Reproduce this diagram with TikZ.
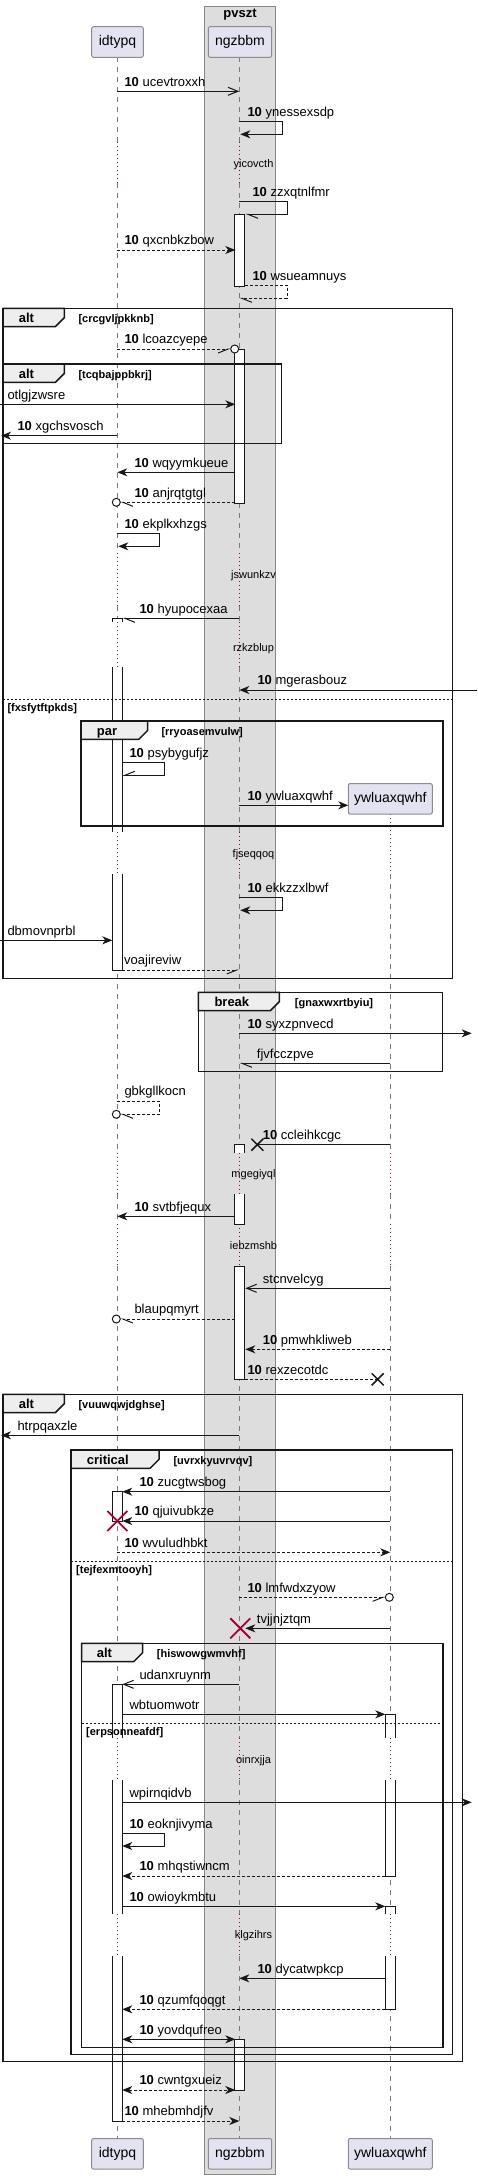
\documentclass[tikz,border=0pt]{standalone}
\usepackage{fontspec}
\setmainfont{Liberation Sans}
\usetikzlibrary{arrows.meta}
\definecolor{partfill}{HTML}{E2E2F0}
\definecolor{partdraw}{HTML}{8C8C8C}
\definecolor{boxfill}{HTML}{DDDDDD}
\definecolor{boxdraw}{HTML}{888888}
\definecolor{lifec}{HTML}{7A7A7A}
\definecolor{delayc}{HTML}{A80036}
\definecolor{tabfill}{HTML}{EEEEEE}
\definecolor{ink}{HTML}{181818}
\newcommand\msgfont{\fontsize{13}{15}\selectfont}
% message: name, y, x1, x2, style, label x, label
\newcommand\seqmsg[7]{%
  \coordinate (#1a) at (#3,#2);
  \coordinate (#1b) at (#4,#2);
  \draw[msgl,#5] (#1a) -- (#1b);
  \node[lbl] (#1l) at (#6,#2-5.3) {#7};}
% self message: name, y1, y2, x1, xr, xend, style, label x, label
\newcommand\seqself[9]{%
  \coordinate (#1a) at (#4,#2);
  \coordinate (#1c) at (#5,#2);
  \coordinate (#1d) at (#5,#3);
  \coordinate (#1b) at (#6,#3);
  \draw[msgl,#7] (#1a) -- (#1c) -- (#1d) -- (#1b);
  \node[lbl] (#1l) at (#8,#2-5.3) {#9};}
% activation pieces: lifeline x, y1, y2
\newcommand\actC[3]{\draw[actl,fill=white] (#1-5,#2) rectangle (#1+5,#3);}
\newcommand\actT[3]{\fill[white] (#1-5,#2) rectangle (#1+5,#3);
  \draw[actl] (#1-5,#3) -- (#1-5,#2) -- (#1+5,#2) -- (#1+5,#3);}
\newcommand\actB[3]{\fill[white] (#1-5,#2) rectangle (#1+5,#3);
  \draw[actl] (#1-5,#2) -- (#1-5,#3) -- (#1+5,#3) -- (#1+5,#2);}
\newcommand\actO[3]{\fill[white] (#1-5,#2) rectangle (#1+5,#3);
  \draw[actl] (#1-5,#2) -- (#1-5,#3); \draw[actl] (#1+5,#2) -- (#1+5,#3);}
% frame: x0, y0, x1, y1, tab right, label, label x, guard, guard x
\newcommand\seqframe[9]{%
  \draw[frm] (#1,#2) rectangle (#3,#4);
  \draw[frm,fill=tabfill] (#1,#2) -- (#5,#2) -- (#5,#2+9.4) -- (#5-9,#2+18.4) -- (#1,#2+18.4) -- cycle;
  \node[flbl] at (#7,#2+14.5) {#6};
  \node[glbl] at (#9,#2+14.2) {#8};}
\newcommand\seqelse[5]{% x0, x1, y, guard, guard x
  \draw[sepl] (#1,#3) -- (#2,#3);
  \node[glbl] at (#5,#3+12.2) {#4};}
\newcommand\redx[2]{\draw[delayc,line width=1.8pt] (#1-10,#2-10) -- (#1+10,#2+10) (#1-10,#2+10) -- (#1+10,#2-10);}
\newcommand\blackx[2]{\draw[ink,line width=1.5pt] (#1-6,#2-6) -- (#1+6,#2+6) (#1-6,#2+6) -- (#1+6,#2-6);}
\begin{document}
\begin{tikzpicture}[x=1pt,y=-1pt,
  lbl/.style={anchor=base west,inner sep=0pt,font=\msgfont,text=black},
  msgl/.style={draw=ink,line width=1pt},
  dsh/.style={dash pattern=on 3pt off 2pt},
  fa/.style={-{Stealth[length=10pt,width=8pt,inset=3pt]}},
  fab/.style={{Stealth[length=10pt,width=8pt,inset=3pt]}-{Stealth[length=10pt,width=8pt,inset=3pt]}},
  oa/.style={-{Straight Barb[length=10pt,width=8pt]}},
  hr/.style={-{Straight Barb[right,length=10pt,width=8pt]}},
  hl/.style={-{Straight Barb[left,length=10pt,width=8pt]}},
  hlu/.style={-{Straight Barb[right,length=10pt,width=8pt]}},
  circ/.style={draw=ink,fill=white,line width=1pt},
  actl/.style={draw=ink,line width=1pt},
  lifel/.style={draw=lifec,line width=0.8pt,dash pattern=on 5pt off 5pt},
  delayl/.style={draw=delayc,line width=1pt,dash pattern=on 1pt off 3pt},
  dlbl/.style={inner sep=0pt,font=\fontsize{11}{13}\selectfont},
  frm/.style={draw=ink,line width=1.5pt},
  sepl/.style={draw=ink,line width=1pt,dash pattern=on 2pt off 2pt},
  flbl/.style={anchor=base west,inner sep=0pt,font=\bfseries\fontsize{13}{15}\selectfont},
  glbl/.style={anchor=base west,inner sep=0pt,font=\bfseries\fontsize{11}{13}\selectfont},
  part/.style={draw=partdraw,fill=partfill,rounded corners=2pt,line width=1pt,minimum height=30.6pt,inner sep=0pt,font=\fontsize{14}{16}\selectfont}
]
\useasboundingbox (0,0) rectangle (477,2179);
% box
\draw[fill=boxfill,draw=boxdraw,line width=1pt] (204.3,6) rectangle (275.3,2174);
\node[font=\bfseries\fontsize{13}{15}\selectfont,inner sep=0pt] (boxtitle) at (240,15) {pvszt};
% lifelines
\foreach \ya/\yb in {57.3/141.7,183.3/553.3,606/622,667/832.3,874/1152.7,1194/1224.3,1266/1738,1780/1914.3,1956/2138.3}
  {\draw[lifel] (117.3,\ya) -- (117.3,\yb); \draw[lifel] (239.3,\ya) -- (239.3,\yb);}
\foreach \ya/\yb in {141.7/183.3,553.3/606,622/667,832.3/874,1152.7/1194,1224.3/1266,1738/1780,1914.3/1956}
  {\draw[delayl] (117.3,\ya) -- (117.3,\yb); \draw[delayl] (239.3,\ya) -- (239.3,\yb);}
\foreach \ya/\yb in {874/1152.7,1194/1224.3,1266/1738,1780/1914.3,1956/2138.3}
  {\draw[lifel] (390.3,\ya) -- (390.3,\yb);}
\foreach \ya/\yb in {814.3/874,1152.7/1194,1224.3/1266,1738/1780,1914.3/1956}
  {\draw[delayl] (390.3,\ya) -- (390.3,\yb);}
% participants
\node[part,minimum width=51.6pt] (p1) at (117.5,42) {idtypq};
\node[part,minimum width=63.4pt] (p2) at (240,42) {ngzbbm};
\node[part,minimum width=51.6pt] (p1b) at (117.5,2153.8) {idtypq};
\node[part,minimum width=63.4pt] (p2b) at (240,2153.8) {ngzbbm};
\node[part,minimum width=84pt] (p3b) at (390.3,2153.8) {ywluaxqwhf};
\node[part,minimum width=84pt] (p3) at (390.3,798.8) {ywluaxqwhf};
% delay texts
\node[dlbl] (d1) at (253.5,164.3) {yicovcth};
\node[dlbl] (d2) at (253.5,576) {jswunkzv};
\node[dlbl] (d3) at (253.5,648.3) {rzkzblup};
\node[dlbl] (d4) at (253.5,854.3) {fjseqqoq};
\node[dlbl] (d5) at (253.5,1174.3) {mgegiyql};
\node[dlbl] (d6) at (253.5,1246) {iebzmshb};
\node[dlbl] (d7) at (253.5,1760.7) {oinrxjja};
\node[dlbl] (d8) at (253.5,1936) {klgzihrs};
% activations
\actC{239.3}{214.3}{286}
\actC{239.3}{349}{503.3}
\actT{117.3}{618.3}{622}
\actO{117.3}{667}{832.3}
\actB{117.3}{874}{970}
\actT{239.3}{1144.7}{1152.7}
\actB{239.3}{1194}{1224.3}
\actC{239.3}{1266}{1379.3}
\actC{117.3}{1491.7}{1521}
\actT{117.3}{1684.3}{1738}
\actO{117.3}{1780}{1914.3}
\actB{117.3}{1956}{2121}
\actT{390.3}{1714.3}{1738}
\actB{390.3}{1780}{1876}
\actT{390.3}{1906.3}{1914.3}
\actB{390.3}{1956}{2009.3}
\actC{239.3}{2039.3}{2090}
% frames
\seqframe{3}{308.3}{452.3}{978.3}{64.3}{alt}{18.7}{[crcgvljpkknb]}{78.3}
\seqelse{3}{452.3}{699}{[fxsfytftpkds]}{7.3}
\seqframe{3}{364}{281.7}{443.7}{64.3}{alt}{18.7}{[tcqbajppbkrj]}{78.3}
\seqframe{81}{721}{443}{826}{147.7}{par}{96.7}{[rryoasemvulw]}{161.3}
\seqframe{198.3}{992.3}{442.7}{1071.3}{279.3}{break}{214.3}{[gnaxwxrtbyiu]}{294.7}
\seqframe{3}{1394.3}{462.7}{2061.7}{64.3}{alt}{18.7}{[vuuwqwjdghse]}{78.3}
\seqframe{71}{1450}{452.7}{2054.3}{159}{critical}{86.7}{[uvrxkyuvrvqv]}{173.3}
\seqelse{71}{452.7}{1561}{[tejfexmtooyh]}{76}
\seqframe{81.7}{1643.3}{443}{2047.7}{142.7}{alt}{96.7}{[hiswowgwmvhf]}{156.7}
\seqelse{81.7}{443}{1723.3}{[erpsonneafdf]}{86}
% messages
\seqmsg{m1}{91.3}{117.3}{239.3}{oa}{124.3}{\textbf{10}\ ucevtroxxh}
\seqself{m2}{121.7}{134.3}{239.3}{282.7}{240.3}{fa}{247.3}{\textbf{10}\ ynessexsdp}
\seqself{m3}{201.3}{214.3}{239.3}{287.3}{245.3}{hl}{252.3}{\textbf{10}\ zzxqtnlfmr}
\seqmsg{m4}{250}{117.3}{235.3}{dsh,fa}{124.3}{\textbf{10}\ qxcnbkzbow}
\seqself{m5}{285.3}{298.3}{245.3}{287.3}{239.3}{dsh,hl}{252.3}{\textbf{10}\ wsueamnuys}
\seqmsg{m7}{349}{117.3}{230.7}{dsh,hr}{124.3}{\textbf{10}\ lcoazcyepe}
\draw[circ] (234.7,349) circle[radius=4pt];
\seqmsg{m8}{404.3}{0}{235.3}{fa}{7.3}{otlgjzwsre}
\seqmsg{m9}{435.7}{117.3}{1}{fa}{17.3}{\textbf{10}\ xgchsvosch}
\seqmsg{m10}{472.3}{235.3}{117.3}{fa}{134.3}{\textbf{10}\ wqyymkueue}
\seqmsg{m11}{502.3}{235.3}{120.3}{dsh,hl}{134.3}{\textbf{10}\ anjrqtgtgl}
\draw[circ] (116.3,502.3) circle[radius=4pt];
\seqself{m12}{533.7}{546.3}{117.3}{159.7}{118.3}{fa}{124.3}{\textbf{10}\ ekplkxhzgs}
\seqmsg{m13}{618.3}{239.3}{122.3}{hl}{139.3}{\textbf{10}\ hyupocexaa}
\seqmsg{m14}{690}{477}{239.3}{fa}{257.3}{\textbf{10}\ mgerasbouz}
\seqself{m15}{762.3}{775.3}{122.3}{164.3}{122.3}{hlu}{129.3}{\textbf{10}\ psybygufjz}
\seqmsg{m16}{805.3}{239.3}{348.3}{fa}{247.3}{\textbf{10}\ ywluaxqwhf}
\seqself{m17}{897.3}{910.3}{239.3}{282.7}{240.3}{fa}{247.3}{\textbf{10}\ ekkzzxlbwf}
\seqmsg{m18}{940.3}{0}{112.3}{fa}{7.3}{dbmovnprbl}
\seqmsg{m19}{970}{122.3}{239.3}{dsh,hr}{124}{voajireviw}
\seqmsg{m20}{1033.3}{239.3}{471.7}{fa}{247.3}{\textbf{10}\ syxzpnvecd}
\seqmsg{m21}{1063.3}{390.3}{239.3}{hl}{256.7}{fjvfcczpve}
\seqself{m22}{1101}{1114.3}{117.3}{159.7}{120.3}{dsh,hl}{124.3}{gbkgllkocn}
\draw[circ] (116.3,1114.3) circle[radius=4pt];
\seqmsg{m23}{1144.7}{390.3}{257.3}{}{262.7}{\textbf{10}\ ccleihkcgc}
\blackx{257.3}{1144.7}
\seqmsg{m24}{1216.3}{235.3}{117.3}{fa}{134.3}{\textbf{10}\ svtbfjequx}
\seqmsg{m25}{1288.3}{390.3}{245.3}{oa}{262.7}{stcnvelcyg}
\seqmsg{m26}{1319}{235.3}{120.3}{dsh,hl}{134.3}{blaupqmyrt}
\draw[circ] (116.3,1319) circle[radius=4pt];
\seqmsg{m27}{1349.3}{390.3}{245.3}{dsh,fa}{262.7}{\textbf{10}\ pmwhkliweb}
\seqmsg{m28}{1379.3}{245.3}{377.7}{dsh}{247.3}{\textbf{10}\ rexzecotdc}
\blackx{377.7}{1379.3}
\seqmsg{m29}{1435.3}{239.3}{1}{fa}{17.3}{htrpqaxzle}
\seqmsg{m30}{1491.7}{390.3}{122.3}{fa}{139.3}{\textbf{10}\ zucgtwsbog}
\seqmsg{m31}{1521}{390.3}{122.3}{fa}{134.3}{\textbf{10}\ qjuivubkze}
\redx{117.3}{1521}
\seqmsg{m32}{1552.3}{117.3}{390.3}{dsh,fa}{124.3}{\textbf{10}\ wvuludhbkt}
\seqmsg{m33}{1597.3}{239.3}{385.3}{dsh,hr}{247.3}{\textbf{10}\ lmfwdxzyow}
\draw[circ] (389.3,1597.3) circle[radius=4pt];
\seqmsg{m34}{1628.3}{390.3}{245.3}{fa}{256.7}{tvjjnjztqm}
\redx{240.3}{1628.3}
\seqmsg{m35}{1684.3}{239.3}{122.3}{oa}{139.3}{udanxruynm}
\seqmsg{m36}{1714.3}{122.3}{385.3}{fa}{129.3}{wbtuomwotr}
\seqmsg{m37}{1802.3}{122.3}{471.7}{fa}{129.3}{wpirnqidvb}
\seqself{m38}{1833.3}{1846}{122.3}{164.3}{122.3}{fa}{129.3}{\textbf{10}\ eoknjivyma}
\seqmsg{m39}{1876}{385.3}{122.3}{dsh,fa}{139.3}{\textbf{10}\ mhqstiwncm}
\seqmsg{m40}{1906.3}{122.3}{385.3}{fa}{129.3}{\textbf{10}\ owioykmbtu}
\seqmsg{m41}{1978.3}{385.3}{239.3}{fa}{257.3}{\textbf{10}\ dycatwpkcp}
\seqmsg{m42}{2009.3}{385.3}{122.3}{dsh,fa}{139.3}{\textbf{10}\ qzumfqoqgt}
\seqmsg{m43}{2039.3}{122.3}{235.3}{fab}{139.3}{\textbf{10}\ yovdqufreo}
\seqmsg{m44}{2090}{122.3}{235.3}{dsh,fab}{139.3}{\textbf{10}\ cwntgxueiz}
\seqmsg{m45}{2121}{122.3}{239.3}{dsh,fa}{124.3}{\textbf{10}\ mhebmhdjfv}
\end{tikzpicture}
\end{document}
